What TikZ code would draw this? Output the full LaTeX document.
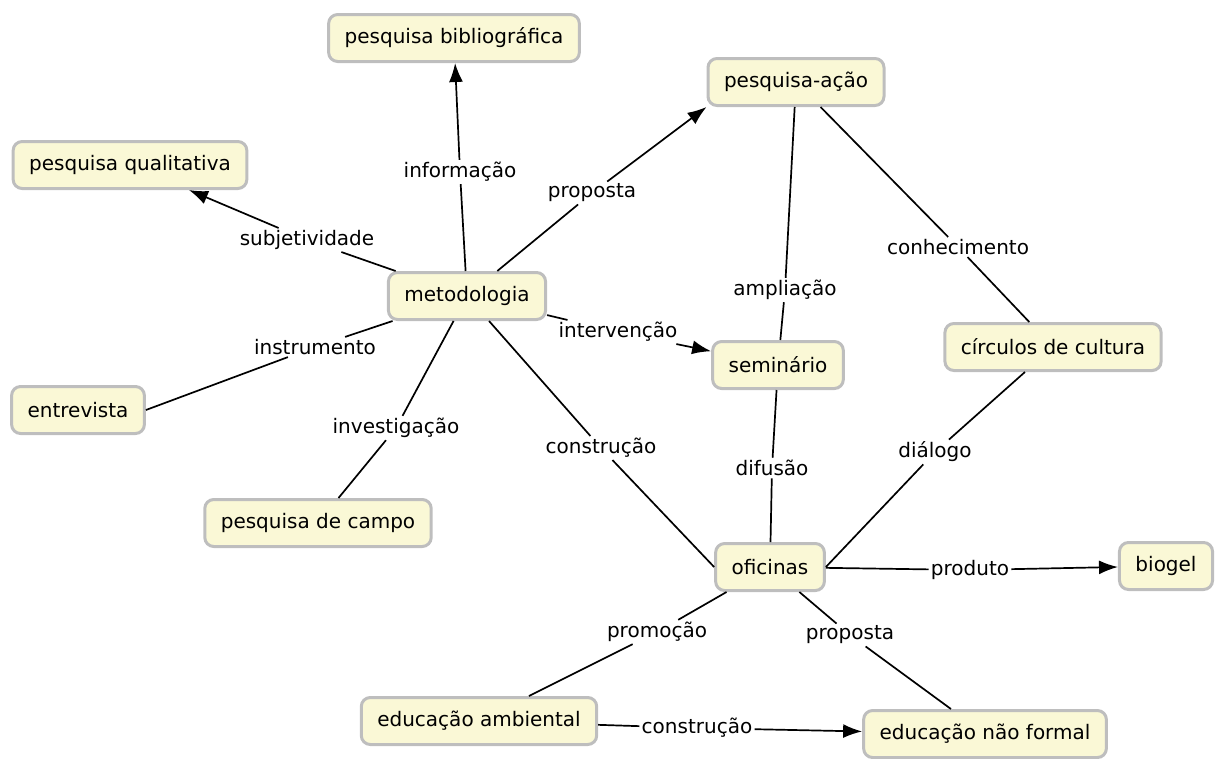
\documentclass[tikz,border=0pt]{standalone}
\usepackage{fontspec}
\setmainfont{DejaVu Sans}
\usepackage{tikz}
\usetikzlibrary{arrows.meta, positioning, calc}
\definecolor{cfill}{RGB}{250,248,214}
\definecolor{cline}{RGB}{190,190,190}
\begin{document}
\begin{tikzpicture}[x=1pt, y=-1pt, font=\fontsize{20}{23}\selectfont, >={Latex[length=19pt,width=14pt]}, line width=1.7pt,
  con/.style={draw=cline, fill=cfill, rounded corners=9pt, line width=3pt, inner xsep=16pt, minimum height=47pt},
  lab/.style={fill=white, inner sep=1.5pt}]
\useasboundingbox (0,0) rectangle (1217,758);
% concepts
\node[con] (meto) at (467,296) {metodologia};
\node[con] (bib) at (454,38) {pesquisa bibliográfica};
\node[con] (pa) at (796,82) {pesquisa-ação};
\node[con] (qual) at (130,165) {pesquisa qualitativa};
\node[con] (sem) at (778,365) {seminário};
\node[con] (circ) at (1053,347) {círculos de cultura};
\node[con] (entr) at (78,410) {entrevista};
\node[con] (campo) at (318,523) {pesquisa de campo};
\node[con] (ofic) at (770,567) {oficinas};
\node[con] (bio) at (1166,566) {biogel};
\node[con] (ea) at (479,721) {educação ambiental};
\node[con] (enf) at (985,734) {educação não formal};
% linking phrases
\node[lab] (lInfo) at (460,172) {informação};
\node[lab] (lSubj) at (307,240) {subjetividade};
\node[lab] (lProp) at (592,193) {proposta};
\node[lab] (lInterv) at (618,332) {intervenção};
\node[lab] (lInstr) at (315,347) {instrumento};
\node[lab] (lInvest) at (396,428) {investigação};
\node[lab] (lConstr) at (601,448) {construção};
\node[lab] (lAmpl) at (785,290) {ampliação};
\node[lab] (lConh) at (958,247) {conhecimento};
\node[lab] (lDif) at (772,468) {difusão};
\node[lab] (lDial) at (935,452) {diálogo};
\node[lab] (lProd) at (970,570) {produto};
\node[lab] (lProm) at (657,632) {promoção};
\node[lab] (lPropB) at (850,635) {proposta};
\node[lab] (lConstrB) at (697,728) {construção};
% links
\draw[->] (meto) -- (lInfo) -- (bib); \draw[->] (meto) -- (lSubj) -- (qual);
\draw[->] (meto) -- (lProp) -- (pa.south west); \draw[->] (meto) -- (lInterv) -- (sem);
\draw (meto) -- (lInstr) -- (entr.east); \draw (meto) -- (lInvest) -- (campo);
\draw (meto) -- (lConstr) -- (ofic.west);
\draw (pa) -- (lAmpl) -- (sem); \draw (pa) -- (lConh) -- (circ);
\draw (sem) -- (lDif) -- (ofic); \draw (circ) -- (lDial) -- (ofic.east);
\draw[->] (ofic) -- (lProd) -- (bio);
\draw (ofic) -- (lProm) -- (ea); \draw (ofic) -- (lPropB) -- (enf);
\draw[->] (ea) -- (lConstrB) -- (enf);
\end{tikzpicture}
\end{document}
